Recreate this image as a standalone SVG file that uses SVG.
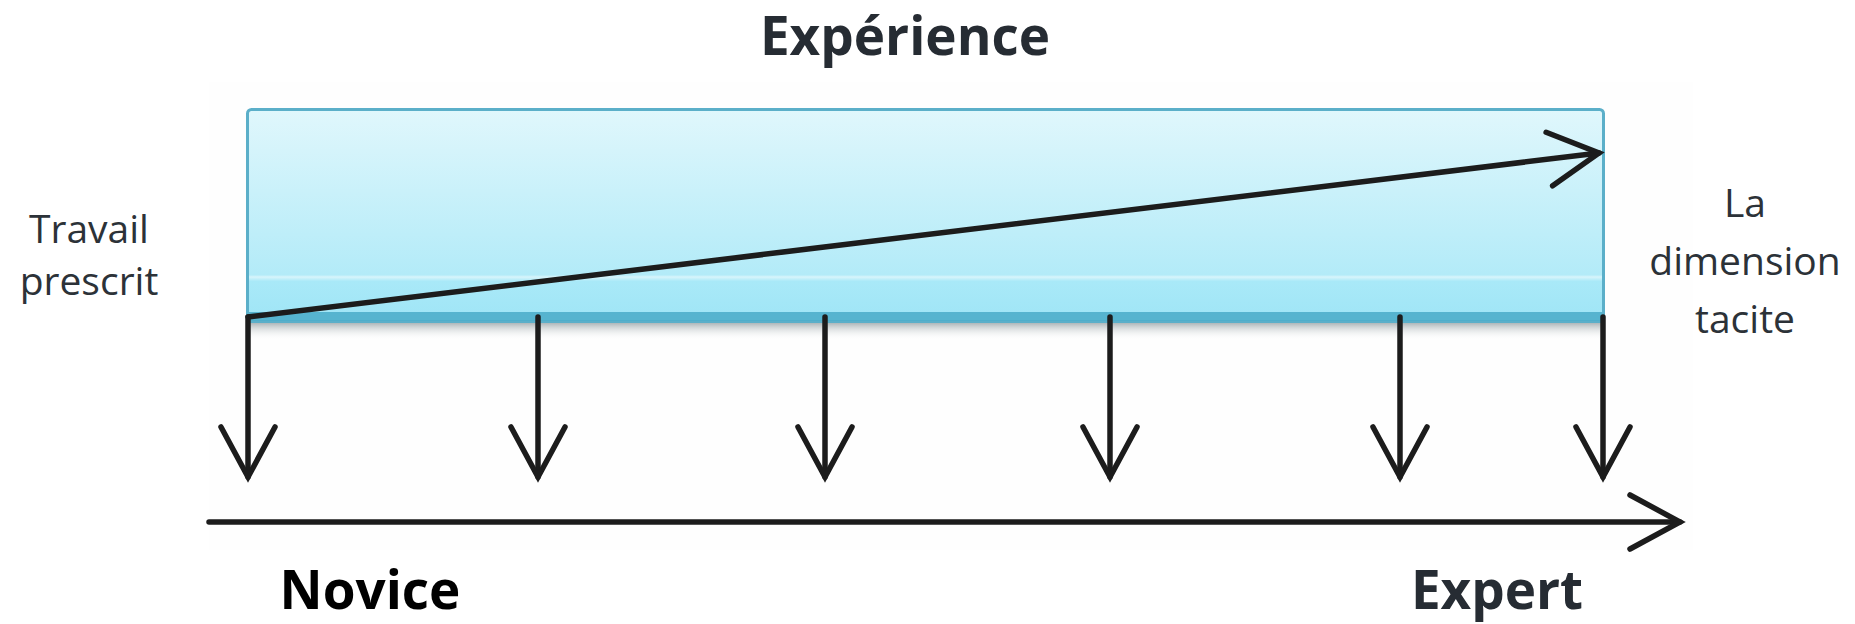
<svg xmlns="http://www.w3.org/2000/svg" width="1855" height="624" viewBox="0 0 1855 624">
  <style>
    .lbl { font-family: "Open Sans", "Noto Sans", "Liberation Sans", sans-serif; font-size: 39px; fill: #2c3238; text-anchor: middle; }
    .big { font-family: "Open Sans", "Noto Sans", "Liberation Sans", sans-serif; font-size: 53px; font-weight: bold; text-anchor: middle; }
    .conn { fill: none; stroke: #1c1c1c; stroke-width: 5.5; stroke-linecap: round; marker-end: url(#chev); }
  </style>
  <defs>
    <linearGradient id="boxFill" x1="0" y1="0" x2="0" y2="1">
      <stop offset="0" stop-color="#e0f7fc"/>
      <stop offset="0.78" stop-color="#b3ebf8"/>
      <stop offset="0.79" stop-color="#d8f5fb"/>
      <stop offset="0.81" stop-color="#a9e9f8"/>
      <stop offset="1" stop-color="#9fe5f6"/>
    </linearGradient>
    <linearGradient id="shadow" x1="0" y1="0" x2="0" y2="1">
      <stop offset="0" stop-color="#8e9a9e" stop-opacity="0.8"/>
      <stop offset="1" stop-color="#ffffff" stop-opacity="0"/>
    </linearGradient>
    <marker id="chev" markerUnits="userSpaceOnUse" markerWidth="80" markerHeight="80" refX="0" refY="0" orient="auto" overflow="visible" viewBox="-60 -40 80 80">
      <path d="M -50 -27 L 0 0 L -50 27" fill="none" stroke="#1c1c1c" stroke-width="5.5" stroke-linecap="round" stroke-linejoin="miter"/>
    </marker>
  </defs>

  <rect width="1855" height="624" fill="#ffffff"/>
  <rect id="frame" x="209" y="82" width="1484" height="468" fill="#fefefe"/>

  <g id="box">
    <rect x="246" y="322" width="1359" height="18" fill="url(#shadow)"/>
    <rect x="247.5" y="109.5" width="1356" height="212" rx="4" fill="url(#boxFill)" stroke="#5bafc9" stroke-width="3"/>
    <rect x="249" y="312" width="1353" height="9" fill="#4eaecb" opacity="0.9"/>
  </g>

  <g id="label-experience">
    <text class="big" x="905" y="55" fill="#262c33">Expérience</text>
  </g>
  <g id="label-travail">
    <text class="lbl" x="89" y="243">Travail</text>
    <text class="lbl" x="89" y="295">prescrit</text>
  </g>
  <g id="label-tacite">
    <text class="lbl" x="1745" y="217">La</text>
    <text class="lbl" x="1745" y="275">dimension</text>
    <text class="lbl" x="1745" y="333">tacite</text>
  </g>
  <g id="label-novice">
    <text class="big" x="370" y="609" fill="#000000">Novice</text>
  </g>
  <g id="label-expert">
    <text class="big" x="1497" y="609" fill="#262c33">Expert</text>
  </g>

  <g id="connectors">
    <path class="conn" d="M 248 317 L 1599 153"/>
    <path class="conn" d="M 248 317 L 248 477"/>
    <path class="conn" d="M 538 317 L 538 477"/>
    <path class="conn" d="M 825 317 L 825 477"/>
    <path class="conn" d="M 1110 317 L 1110 477"/>
    <path class="conn" d="M 1400 317 L 1400 477"/>
    <path class="conn" d="M 1603 317 L 1603 477"/>
    <path class="conn" d="M 209 522 L 1680 522"/>
  </g>
</svg>
